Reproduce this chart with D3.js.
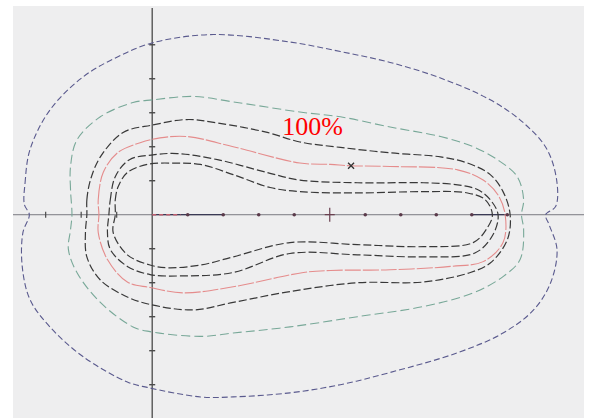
<!DOCTYPE html>
<html>
<head>
<meta charset="utf-8">
<script src="https://cdn.jsdelivr.net/npm/d3@7"></script>
<style>
  html, body { margin: 0; padding: 0; background: #ffffff; }
  svg { display: block; }
</style>
</head>
<body>
<svg id="chart" width="589" height="418"></svg>
<script>
// Isodose contours (mm) around a line of source dwell positions on the x axis.
const isoNavy = [
  [-18.0, 1.5], [-17.9, 4.7], [-17.2, 9.6], [-14.4, 15.4], [-9.7, 20.3], [-4.9, 23.2],
  [0.1, 25.3], [8.6, 26.5], [19.4, 25.4], [26.5, 24.0], [33.5, 22.4], [40.6, 20.1],
  [47.6, 16.9], [52.3, 13.5], [55.6, 9.6], [57.0, 4.7], [56.8, 1.2], [55.4, 0],
  [55.9, -1.5], [57.0, -5.1], [56.1, -10.0], [53.7, -14.0], [49.4, -17.4], [43.0, -20.3],
  [33.5, -23.2], [26.5, -25.0], [19.4, -26.2], [11.4, -26.8], [6.8, -26.8], [-0.7, -25.4],
  [-3.5, -24.6], [-9.7, -20.9], [-14.4, -16.5], [-17.2, -12.5], [-18.3, -7.6], [-18.2, -2.6],
  [-17.3, 0]
];
const isoGreen = [
  [-11.3, 0], [-11.5, 3.7], [-11.5, 7.1], [-10.6, 11.0], [-7.3, 14.4], [-2.7, 16.5],
  [0.1, 16.9], [5.8, 17.4], [11.4, 16.6], [20.8, 15.1], [26.5, 14.4], [33.5, 12.9],
  [40.6, 11.5], [45.2, 10.0], [48.6, 8.1], [51.4, 5.6], [52.3, 2.2], [52.0, 0],
  [52.3, -2.2], [51.8, -6.6], [49.4, -9.1], [45.2, -11.5], [38.2, -13.5], [28.9, -15.0],
  [19.4, -16.5], [11.4, -17.4], [6.8, -17.9], [-0.3, -17.2], [-2.7, -16.5], [-7.3, -12.9],
  [-10.6, -8.5], [-11.8, -5.1], [-11.5, -2.2]
];
const isoBlackOuter = [
  [-9.2, 0], [-9.2, 2.2], [-8.7, 5.1], [-7.3, 8.5], [-4.1, 12.1], [0.1, 13.2],
  [4.9, 14.0], [9.2, 13.5], [16.2, 12.1], [20.8, 10.7], [26.5, 9.9], [33.5, 9.1],
  [40.6, 8.5], [44.4, 7.6], [47.6, 5.9], [49.4, 3.4], [50.4, 0], [50.0, -3.7],
  [47.6, -7.1], [44.8, -8.5], [38.2, -9.9], [28.9, -10.0], [19.4, -11.3], [11.4, -12.9],
  [5.8, -14.0], [-0.3, -13.2], [-3.5, -12.1], [-7.3, -9.6], [-9.2, -6.2], [-9.4, -2.6]
];
const iso100 = [
  [-7.5, 0], [-7.6, 2.2], [-6.9, 6.2], [-4.9, 9.1], [-1.7, 10.6], [1.1, 11.3],
  [4.9, 11.5], [11.4, 10.0], [20.8, 7.6], [25.1, 7.4], [27.9, 7.2], [33.5, 7.1],
  [43.0, 6.6], [46.6, 5.1], [48.7, 2.9], [49.7, 0], [49.4, -4.1], [46.6, -6.9],
  [42.0, -7.6], [33.5, -8.1], [25.1, -8.2], [21.3, -8.5], [11.4, -10.6], [4.4, -11.5],
  [-0.3, -10.7], [-3.5, -9.9], [-6.3, -6.6], [-7.6, -2.6]
];
const isoBlackA = [
  [-6.1, 0], [-5.9, 2.2], [-5.2, 5.6], [-3.2, 8.1], [0.1, 8.8], [3.5, 9.0],
  [9.2, 8.1], [16.2, 6.2], [20.8, 5.1], [28.9, 4.7], [38.2, 4.7], [43.0, 4.4],
  [45.8, 3.7], [47.6, 2.2], [48.7, 0], [48.0, -2.9], [45.5, -5.6], [38.2, -6.2],
  [28.9, -5.9], [19.4, -5.7], [11.4, -8.5], [4.4, -9.0], [-0.3, -8.8], [-3.5, -7.6],
  [-5.9, -5.1], [-6.3, -2.6]
];
const isoBlackB = [
  [-5.2, 0], [-5.2, 2.2], [-4.8, 4.1], [-3.5, 6.2], [-0.7, 7.4], [3.0, 7.6],
  [6.8, 7.4], [11.4, 5.9], [16.6, 4.0], [20.8, 3.4], [28.9, 3.2], [38.2, 3.4],
  [44.4, 3.2], [46.9, 2.2], [47.9, 0], [47.2, -1.9], [45.2, -4.1], [38.2, -4.7],
  [28.9, -4.4], [19.4, -4.1], [11.4, -6.2], [6.8, -7.4], [2.1, -7.8], [-0.3, -7.4],
  [-3.5, -5.9], [-5.5, -2.6]
];

// Axis ticks and source dwell positions (mm)
const yTicks = [-25, -20, -15, -10, -5, 5, 10, 15, 20, 25];
const xTicksLeft = [-15, -10, -5];
const dwellPositions = [5, 10, 15, 20, 30, 35, 40, 45, 50];
const centreMark = [25];
const refPoint = [[28.0, 7.2]];
const label100 = { text: "100%", x: 18.3, y: 11.7 };

const svg = d3.select("#chart");
const W = 589, H = 418;

// plotting frame
const frame = { left: 13, top: 6, right: 584, bottom: 418 };
const x = d3.scaleLinear().domain([-19.6, 60.8]).range([frame.left, frame.right]);
const y = d3.scaleLinear().domain([30.7, -29.9]).range([frame.top, frame.bottom]);

svg.append("rect")
  .attr("x", frame.left).attr("y", frame.top)
  .attr("width", frame.right - frame.left).attr("height", frame.bottom - frame.top)
  .attr("fill", "#eeeeef");

// axes through the origin
const axisColor = "#4a4a4a";
svg.append("line")
  .attr("x1", frame.left).attr("x2", frame.right)
  .attr("y1", y(0)).attr("y2", y(0))
  .attr("stroke", "#7a7a80").attr("stroke-width", 1);
svg.append("line")
  .attr("x1", x(0)).attr("x2", x(0))
  .attr("y1", frame.top + 2).attr("y2", frame.bottom)
  .attr("stroke", axisColor).attr("stroke-width", 1.3);

// darker segments of the source track
svg.append("line")
  .attr("x1", x(0)).attr("x2", x(10))
  .attr("y1", y(0)).attr("y2", y(0))
  .attr("stroke", "#3a3a55").attr("stroke-width", 1.3);
svg.append("line")
  .attr("x1", x(45)).attr("x2", x(50))
  .attr("y1", y(0)).attr("y2", y(0))
  .attr("stroke", "#3a3a55").attr("stroke-width", 1.3);

svg.append("g").selectAll("line").data(yTicks).join("line")
  .attr("x1", x(0) - 3).attr("x2", x(0) + 3)
  .attr("y1", d => y(d)).attr("y2", d => y(d))
  .attr("stroke", axisColor).attr("stroke-width", 1.4);

svg.append("g").selectAll("line").data(xTicksLeft).join("line")
  .attr("x1", d => x(d)).attr("x2", d => x(d))
  .attr("y1", y(0) - 3).attr("y2", y(0) + 3)
  .attr("stroke", axisColor).attr("stroke-width", 1.2);

// contour lines
const line = d3.line()
  .x(d => x(d[0])).y(d => y(d[1]))
  .curve(d3.curveCatmullRomClosed.alpha(0.5));

const contours = [
  { pts: isoNavy, color: "#5a5a8e", dash: "6,3", w: 1.1 },
  { pts: isoGreen, color: "#78a898", dash: "9,4", w: 1.1 },
  { pts: isoBlackOuter, color: "#383838", dash: "8,3", w: 1.2 },
  { pts: iso100, color: "#e58c8c", dash: "16,2", w: 1.1 },
  { pts: isoBlackA, color: "#383838", dash: "8,3", w: 1.2 },
  { pts: isoBlackB, color: "#383838", dash: "8,3", w: 1.2 }
];

svg.append("g").selectAll("path").data(contours).join("path")
  .attr("d", d => line(d.pts))
  .attr("fill", "none")
  .attr("stroke", d => d.color)
  .attr("stroke-width", d => d.w)
  .attr("stroke-dasharray", d => d.dash);

// source dwell markers
svg.append("g").selectAll("circle").data(dwellPositions).join("circle")
  .attr("cx", d => x(d)).attr("cy", y(0)).attr("r", 1.8)
  .attr("fill", "#5a3a4a");

svg.append("g").selectAll("path").data(centreMark).join("path")
  .attr("d", d => `M${x(d) - 5},${y(0)}H${x(d) + 5}M${x(d)},${y(0) - 7}V${y(0) + 7}`)
  .attr("stroke", "#6a4050").attr("stroke-width", 1.2).attr("fill", "none");

// short red marks near the origin
svg.append("line")
  .attr("x1", x(0)).attr("x2", x(4))
  .attr("y1", y(0)).attr("y2", y(0))
  .attr("stroke", "#c06070").attr("stroke-width", 1.5)
  .attr("stroke-dasharray", "4,3");

// dose reference point
svg.append("g").selectAll("path").data(refPoint).join("path")
  .attr("d", d => `M${x(d[0]) - 3},${y(d[1]) - 3}L${x(d[0]) + 3},${y(d[1]) + 3}M${x(d[0]) - 3},${y(d[1]) + 3}L${x(d[0]) + 3},${y(d[1]) - 3}`)
  .attr("stroke", "#333").attr("stroke-width", 1.3);

svg.append("text")
  .attr("x", x(label100.x)).attr("y", y(label100.y))
  .attr("font-family", "'Liberation Serif', 'Times New Roman', serif")
  .attr("font-size", 26)
  .attr("fill", "#ff0000")
  .text(label100.text);
</script>
</body>
</html>
